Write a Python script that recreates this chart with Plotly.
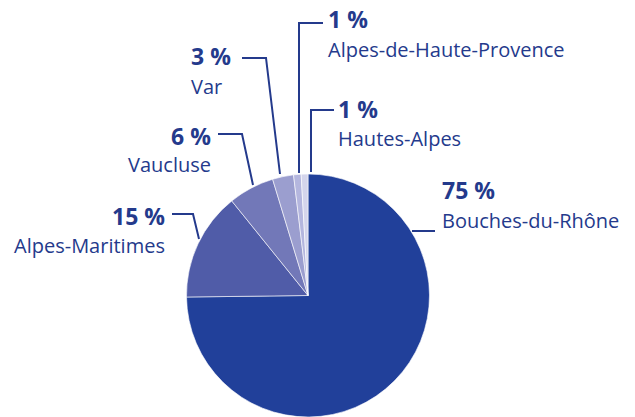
import plotly.graph_objects as go

W, H = 635, 417

departements = ["Bouches-du-Rhône", "Alpes-Maritimes", "Vaucluse", "Var",
                "Alpes-de-Haute-Provence", "Hautes-Alpes"]
parts = [74.8, 14.4, 6.1, 2.8, 1.0, 0.9]
labels_pct = ["75 %", "15 %", "6 %", "3 %", "1 %", "1 %"]
colors = ["#21409a", "#505ca8", "#7278b8", "#9b9ecf", "#b4b6de", "#d4d5ec"]

TXT = "#243a8c"
FONT = "Open Sans"


def px(x):
    return x / W


def py(y):
    return 1 - y / H


fig = go.Figure(go.Pie(
    labels=departements, values=parts, sort=False, direction="clockwise",
    rotation=0, textinfo="none", hoverinfo="label+percent",
    marker=dict(colors=colors, line=dict(color="white", width=0.6)),
    domain=dict(x=[px(186), px(430)], y=[0, py(174)]),
    showlegend=False,
))

# label layout: (index, x, num_y, name_y, anchor)
placements = [
    (0, 440, 189, 219.5, "left"),
    (1, 167, 215, 244, "right"),
    (2, 213, 134.5, 163.5, "right"),
    (3, 189, 55, 85, "left"),
    (4, 326, 18, 48.5, "left"),
    (5, 336, 108, 137.5, "left"),
]

ann = []
for i, x, yn, yl, anc in placements:
    ann.append(dict(x=px(x), y=py(yn + 1), xref="paper", yref="paper",
                    text="<b>" + labels_pct[i] + "</b>", showarrow=False,
                    xanchor=anc, yanchor="middle",
                    font=dict(family=FONT, size=23, color=TXT)))
    ann.append(dict(x=px(x), y=py(yl + 1), xref="paper", yref="paper",
                    text=departements[i], showarrow=False,
                    xanchor=anc, yanchor="middle",
                    font=dict(family=FONT, size=20, color=TXT)))

leaders = [
    [(412, 231), (435, 231)],
    [(172, 214), (193, 214), (199, 239)],
    [(218, 134), (242, 134), (253, 185)],
    [(242, 58), (266, 58), (280, 174)],
    [(299, 173), (299, 23), (323, 23)],
    [(311, 172), (311, 110), (334, 110)],
]
shapes = []
for pts in leaders:
    path = "M " + " L ".join(f"{px(a):.5f},{py(b):.5f}" for a, b in pts)
    shapes.append(dict(type="path", path=path, xref="paper", yref="paper",
                       line=dict(color=TXT, width=2)))

fig.update_layout(
    width=W, height=H, margin=dict(l=0, r=0, t=0, b=0),
    paper_bgcolor="white", plot_bgcolor="white",
    annotations=ann, shapes=shapes,
)

fig.write_html("out.html",
               config={"displayModeBar": False},
               post_script="document.body.style.margin='0';"
                           "document.body.style.overflow='hidden';")
